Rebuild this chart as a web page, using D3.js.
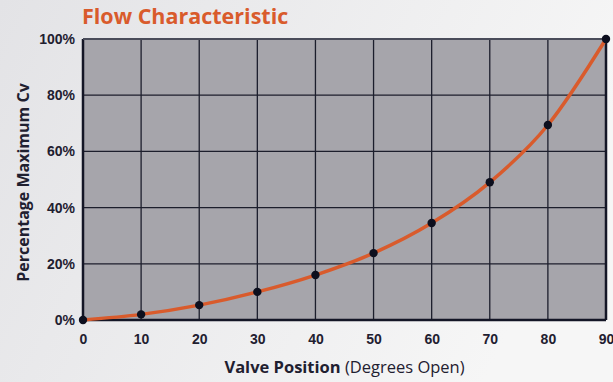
<!DOCTYPE html>
<html>
<head>
<meta charset="utf-8">
<script src="https://cdn.jsdelivr.net/npm/d3@7"></script>
<style>
  body { margin: 0; }
  svg { display: block; font-family: "Open Sans", "Noto Sans", sans-serif; }
</style>
</head>
<body>
<div id="chart"></div>
<script>
const positions = [0, 10, 20, 30, 40, 50, 60, 70, 80, 90];
const cvPercent = [0, 2, 5.3, 10, 16, 23.8, 34.5, 49, 69.4, 100];
const xTicks = [0, 10, 20, 30, 40, 50, 60, 70, 80, 90];
const yTicks = [0, 20, 40, 60, 80, 100];

const W = 613, H = 382;
const margin = { top: 39, right: 7, bottom: 62, left: 83 };
const width = W - margin.left - margin.right;
const height = H - margin.top - margin.bottom;

const root = d3.select("#chart").append("svg")
    .attr("width", W)
    .attr("height", H);

// soft background gradient
const grad = root.append("defs").append("linearGradient")
    .attr("id", "bg").attr("x1", "0").attr("y1", "0").attr("x2", "1").attr("y2", "0.3");
grad.append("stop").attr("offset", "0").attr("stop-color", "#e3e3e6");
grad.append("stop").attr("offset", "1").attr("stop-color", "#f6f6f6");
root.append("rect").attr("width", W).attr("height", H).attr("fill", "url(#bg)");

const svg = root.append("g")
    .attr("transform", `translate(${margin.left},${margin.top})`);

const x = d3.scaleLinear().domain([0, 90]).range([0, width]);
const y = d3.scaleLinear().domain([0, 100]).range([height, 0]);

// plot area
svg.append("rect")
    .attr("width", width).attr("height", height)
    .attr("fill", "#a6a5ab");

// grid
svg.append("g")
    .selectAll("line")
    .data(xTicks)
    .join("line")
    .attr("x1", d => x(d)).attr("x2", d => x(d))
    .attr("y1", 0).attr("y2", height)
    .attr("stroke", "#1c1e2c").attr("stroke-width", 1.3);

svg.append("g")
    .selectAll("line")
    .data(yTicks)
    .join("line")
    .attr("x1", 0).attr("x2", width)
    .attr("y1", d => y(d)).attr("y2", d => y(d))
    .attr("stroke", "#1c1e2c").attr("stroke-width", 1.3);

// frame
svg.append("line").attr("x1", 0).attr("x2", 0).attr("y1", 0).attr("y2", height)
    .attr("stroke", "#141626").attr("stroke-width", 2.5);
svg.append("line").attr("x1", 0).attr("x2", width).attr("y1", height).attr("y2", height)
    .attr("stroke", "#141626").attr("stroke-width", 2.5);
svg.append("line").attr("x1", width).attr("x2", width).attr("y1", 0).attr("y2", height)
    .attr("stroke", "#141626").attr("stroke-width", 2.5);
svg.append("line").attr("x1", 0).attr("x2", width).attr("y1", 0).attr("y2", 0)
    .attr("stroke", "#4a4c5a").attr("stroke-width", 2);

// axes (labels only)
const xAxis = svg.append("g")
    .attr("transform", `translate(0,${height})`)
    .call(d3.axisBottom(x).tickValues(xTicks).tickSize(0).tickPadding(14));
xAxis.select(".domain").remove();
xAxis.selectAll("text")
    .attr("fill", "#1f2030").style("font-size", "14px").style("font-weight", "bold");

const yAxis = svg.append("g")
    .call(d3.axisLeft(y).tickValues(yTicks).tickSize(0).tickPadding(8).tickFormat(d => d + "%"));
yAxis.select(".domain").remove();
yAxis.selectAll("text")
    .attr("fill", "#1f2030").style("font-size", "14px").style("font-weight", "bold");

// curve
const data = positions.map((p, i) => ({ pos: p, cv: cvPercent[i] }));
const line = d3.line()
    .x(d => x(d.pos))
    .y(d => y(d.cv))
    .curve(d3.curveMonotoneX);

svg.append("path")
    .datum(data)
    .attr("fill", "none")
    .attr("stroke", "#d95b2c")
    .attr("stroke-width", 3.5)
    .attr("d", line);

svg.selectAll("circle")
    .data(data)
    .join("circle")
    .attr("cx", d => x(d.pos))
    .attr("cy", d => y(d.cv))
    .attr("r", 4.2)
    .attr("fill", "#0d0f1e");

// titles
root.append("text")
    .attr("x", 82).attr("y", 24)
    .attr("fill", "#d95b2c")
    .style("font-size", "21.5px").style("font-weight", "bold")
    .text("Flow Characteristic");

const xl = root.append("text")
    .attr("x", margin.left + width / 2).attr("y", 373)
    .attr("text-anchor", "middle")
    .attr("fill", "#1f2030")
    .style("font-size", "16.5px");
xl.append("tspan").style("font-weight", "bold").text("Valve Position");
xl.append("tspan").text(" (Degrees Open)");

root.append("text")
    .attr("transform", `translate(29,${margin.top + height / 2 + 3}) rotate(-90)`)
    .attr("text-anchor", "middle")
    .attr("fill", "#1f2030")
    .style("font-size", "16px").style("font-weight", "bold")
    .text("Percentage Maximum Cv");
</script>
</body>
</html>
